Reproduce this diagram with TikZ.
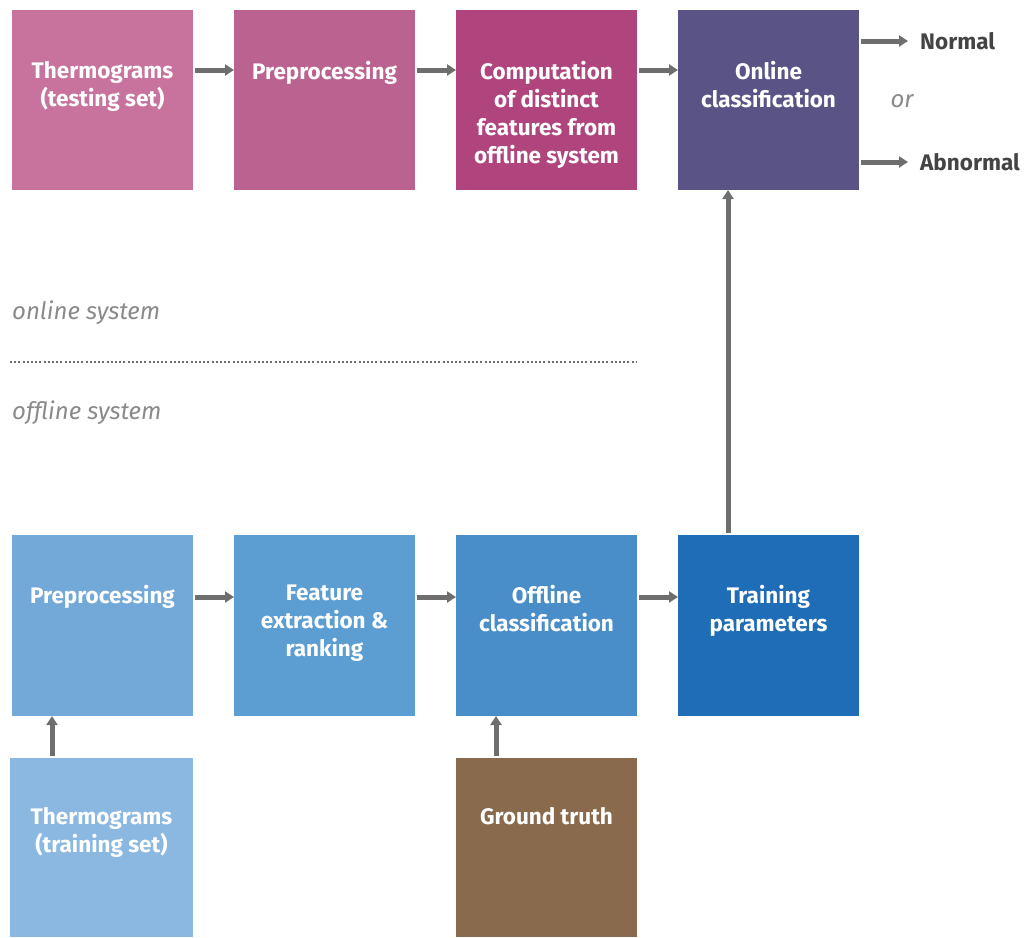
\documentclass[tikz,border=0pt]{standalone}
\usepackage{fontspec}
\setmainfont{Fira Sans}
\usetikzlibrary{arrows.meta}
\definecolor{pA}{HTML}{C7739E}
\definecolor{pB}{HTML}{BB6390}
\definecolor{pC}{HTML}{B0457D}
\definecolor{pD}{HTML}{5A5486}
\definecolor{bA}{HTML}{73A9D8}
\definecolor{bB}{HTML}{5C9DD2}
\definecolor{bC}{HTML}{4A8EC9}
\definecolor{bD}{HTML}{1F6DB6}
\definecolor{bE}{HTML}{8BB8E0}
\definecolor{gt}{HTML}{8A6A4C}
\definecolor{arr}{HTML}{6E6E6E}
\definecolor{lab}{HTML}{8A8A8A}
\definecolor{outc}{HTML}{444444}
\tikzset{
  box/.style={draw=none, minimum width=181pt, minimum height=180pt, inner sep=0pt, outer sep=0pt},
  boxtext/.style={anchor=north, align=center, text=white, inner sep=0pt,
    font=\fontsize{22.5}{28}\selectfont\bfseries},
  flow/.style={draw=arr, line width=5pt, -{Triangle[length=9pt,width=11pt]}, shorten <=2pt},
  syslabel/.style={anchor=west, text=lab, inner sep=0pt, font=\fontsize{24}{28}\selectfont\itshape},
  outlabel/.style={anchor=west, text=outc, inner sep=0pt, font=\fontsize{22.5}{26}\selectfont\bfseries}
}
\begin{document}
\begin{tikzpicture}[x=1pt,y=-1pt]
\useasboundingbox (0,0) rectangle (1027,937);
% top row
\node[box, fill=pA] (t1) at (102.5,100) {};
\node[box, fill=pB] (t2) at (324.5,100) {};
\node[box, fill=pC] (t3) at (546.5,100) {};
\node[box, fill=pD] (t4) at (768.5,100) {};
\node[boxtext] (t1l) at ([yshift=-51pt]t1.north) {Thermograms\\(testing set)};
\node[boxtext] (t2l) at ([yshift=-51pt]t2.north) {Preprocessing};
\node[boxtext] (t3l) at ([yshift=-51pt]t3.north) {Computation\\of distinct\\features from\\offline system};
\node[boxtext] (t4l) at ([yshift=-51pt]t4.north) {Online\\classification};
% bottom row
\node[box, fill=bA, minimum height=181pt] (b1) at (102.5,625.5) {};
\node[box, fill=bB, minimum height=181pt] (b2) at (324.5,625.5) {};
\node[box, fill=bC, minimum height=181pt] (b3) at (546.5,625.5) {};
\node[box, fill=bD, minimum height=181pt] (b4) at (768.5,625.5) {};
\node[boxtext] (b1l) at ([yshift=-50pt]b1.north) {Preprocessing};
\node[boxtext] (b2l) at ([yshift=-50pt]b2.north) {Feature\\extraction \&\\ranking};
\node[boxtext] (b3l) at ([yshift=-50pt]b3.north) {Offline\\classification};
\node[boxtext] (b4l) at ([yshift=-50pt]b4.north) {Training\\parameters};
% inputs
\node[box, fill=bE, minimum width=183pt, minimum height=179pt] (s1) at (101.5,847.5) {};
\node[box, fill=gt, minimum height=179pt] (s2) at (546.5,847.5) {};
\node[boxtext] (s1l) at ([yshift=-49pt]s1.north) {Thermograms\\(training set)};
\node[boxtext] (s2l) at ([yshift=-49pt]s2.north) {Ground truth};
% horizontal arrows top
\draw[flow] (t1.east |- 0,70) -- (t2.west |- 0,70);
\draw[flow] (t2.east |- 0,70) -- (t3.west |- 0,70);
\draw[flow] (t3.east |- 0,70) -- (t4.west |- 0,70);
% horizontal arrows bottom
\draw[flow] (b1.east |- 0,597) -- (b2.west |- 0,597);
\draw[flow] (b2.east |- 0,597) -- (b3.west |- 0,597);
\draw[flow] (b3.east |- 0,597) -- (b4.west |- 0,597);
% vertical arrows
\draw[flow] (b4.north -| 728,0) -- (t4.south -| 728,0);
\draw[flow] (s1.north -| 52,0) -- (b1.south -| 52,0);
\draw[flow] (s2.north -| 496,0) -- (b3.south -| 496,0);
% outputs
\node[outlabel] (nor) at (920,41) {Normal};
\node[outlabel] (abn) at (920,162) {Abnormal};
\node[syslabel, anchor=center] (or) at (902,101) {or};
\draw[flow] (t4.east |- nor) -- ([xshift=-12pt]nor.west);
\draw[flow] (t4.east |- abn) -- ([xshift=-12pt]abn.west);
% system separator
\node[syslabel] (on) at (12,313) {online system};
\node[syslabel] (off) at (12,413) {offline system};
\coordinate (d1) at (10,362);
\coordinate (d2) at (637,362);
\draw[lab!80!black, line width=1.2pt, dash pattern=on 2pt off 2.2pt] (d1) -- (d2);
\end{tikzpicture}
\end{document}
